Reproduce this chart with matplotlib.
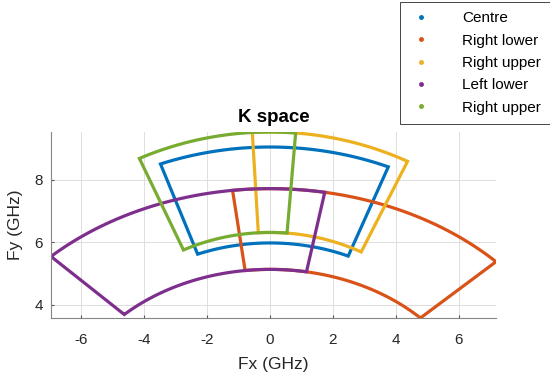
import numpy as np
import matplotlib
matplotlib.use("Agg")
import matplotlib.pyplot as plt
from matplotlib.patches import Polygon
from matplotlib.lines import Line2D

plt.rcParams['font.family'] = ['Liberation Sans', 'DejaVu Sans']
plt.rcParams['axes.unicode_minus'] = False

# K-space coverage regions (annular sectors)
labels = ['Centre', 'Right lower', 'Right upper', 'Left lower', 'Right upper']
colors = ['#0072BD', '#D95319', '#EDB120', '#7E2F8E', '#77AC30']
r_inner = [5.975, 5.13, 6.31, 5.13, 6.31]        # inner arc apex Fy (GHz)
r_outer = [9.04, 7.71, 9.52, 7.71, 9.52]         # outer arc apex Fy (GHz)
edge_left = [-22.3, -8.86, -3.4, -51.5, -25.6]   # left edge direction (deg from Fy axis)
edge_right = [24.1, 53.2, 27.0, 12.9, 4.9]       # right edge direction (deg from Fy axis)
stretch = [1.13, 1.30, 1.06, 1.30, 1.06]         # Fx/Fy semi-axis ratio of the arcs

x_ticks = [-6, -4, -2, 0, 2, 4, 6]
y_ticks = [4, 6, 8]


def sector(r0, r1, a0, a1, k, n=200):
    """Closed outline of an elliptical annular sector."""
    p0 = np.arctan(np.tan(np.radians(a0)) / k)
    p1 = np.arctan(np.tan(np.radians(a1)) / k)
    t = np.linspace(p0, p1, n)
    outer = np.column_stack([k * r1 * np.sin(t), r1 * np.cos(t)])
    inner = np.column_stack([k * r0 * np.sin(t[::-1]), r0 * np.cos(t[::-1])])
    return np.vstack([outer, inner])


fig = plt.figure(figsize=(5.5, 3.76), dpi=100)
ax = fig.add_axes([51 / 550, 58 / 376, 445 / 550, 186 / 376])

for r0, r1, a0, a1, k, c in zip(r_inner, r_outer, edge_left, edge_right, stretch, colors):
    ax.add_patch(Polygon(sector(r0, r1, a0, a1, k), closed=True, fill=False,
                         edgecolor=c, linewidth=2.3, joinstyle='miter'))

ax.autoscale(tight=True)
ax.set_xticks(x_ticks)
ax.set_yticks(y_ticks)
ax.grid(True, color='#dedede', linewidth=0.7)
ax.set_axisbelow(True)

for side in ['top', 'right']:
    ax.spines[side].set_visible(False)
for side in ['left', 'bottom']:
    ax.spines[side].set_color('#858585')
    ax.spines[side].set_linewidth(0.8)

ax.tick_params(axis='both', direction='in', length=2.5, width=0.8,
               color='#555555', labelcolor='#262626', labelsize=11)
ax.tick_params(axis='x', pad=11)
ax.tick_params(axis='y', pad=6)

ax.set_xlabel('Fx (GHz)', fontsize=12.5, color='#262626', labelpad=7)
ax.set_ylabel('Fy (GHz)', fontsize=12.5, color='#262626', labelpad=8)
ax.set_title('K space', fontsize=13.5, fontweight='bold', color='#000000', pad=7)

handles = [Line2D([], [], color=c, marker='.', linestyle='none', markersize=5)
           for c in colors]
leg = fig.legend(handles, labels, loc='upper left',
                 bbox_to_anchor=(400 / 550, 1 - 2 / 376), bbox_transform=fig.transFigure,
                 fontsize=11, frameon=True, fancybox=False, framealpha=1,
                 edgecolor='#262626', borderpad=0.6, labelspacing=0.55,
                 handlelength=1.5, handletextpad=1.95, borderaxespad=0)
leg.get_frame().set_linewidth(0.6)

fig.savefig('out.png', dpi=100)
